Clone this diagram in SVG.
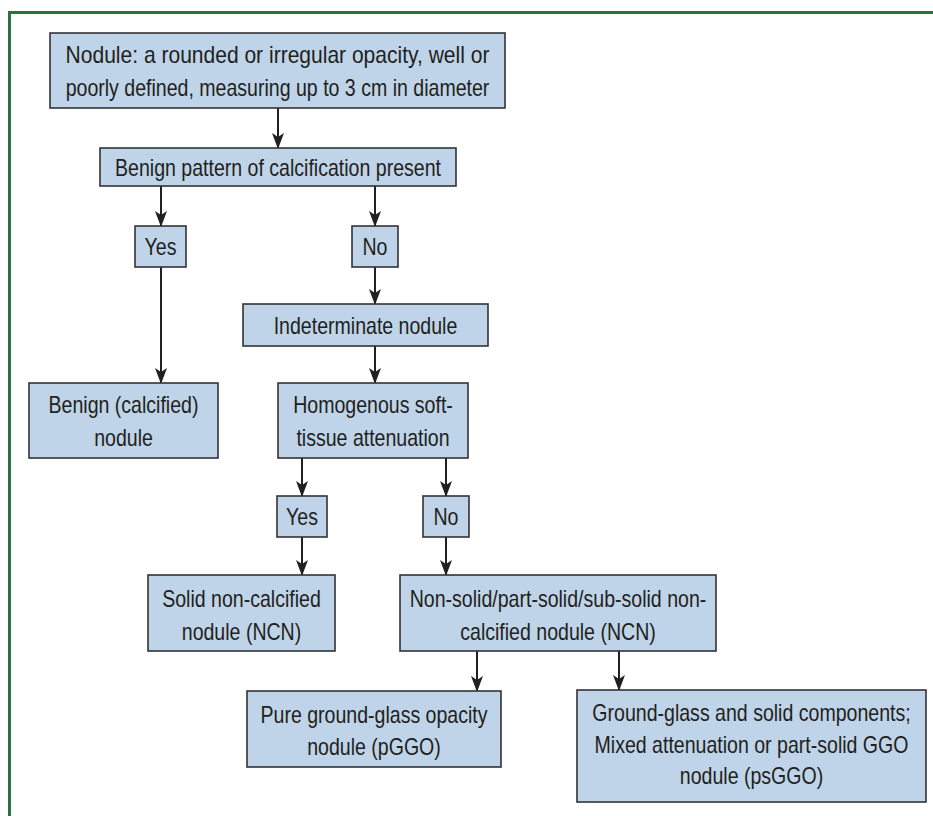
<svg xmlns="http://www.w3.org/2000/svg" width="933" height="816" viewBox="0 0 933 816">
<style>
.box{fill:#bfd4e8;stroke:#333335;stroke-width:1.6}
.t{font-family:"Liberation Sans",Arial,sans-serif;font-size:24px;fill:#231f20;text-anchor:middle}
.c{stroke:#231f20;stroke-width:2;fill:none;marker-end:url(#ah)}
</style>
<defs>
<marker id="ah" markerUnits="userSpaceOnUse" markerWidth="16" markerHeight="12" viewBox="0 0 16 12" refX="15" refY="6" orient="auto">
<path d="M0,0 L16,6 L0,12 L4,6 Z" fill="#231f20"/>
</marker>
</defs>
<rect width="933" height="816" fill="#ffffff"/>
<path d="M9.5,816 V12.5 H933" fill="none" stroke="#2e7040" stroke-width="3"/>
<g id="connectors">
<path class="c" d="M278,108 V148"/>
<path class="c" d="M161,186 V226"/>
<path class="c" d="M375,186 V226"/>
<path class="c" d="M375,267 V304"/>
<path class="c" d="M161,267 V383"/>
<path class="c" d="M375,346 V383"/>
<path class="c" d="M302,458 V496"/>
<path class="c" d="M446,458 V496"/>
<path class="c" d="M302,537 V575"/>
<path class="c" d="M446,537 V575"/>
<path class="c" d="M477,651 V691"/>
<path class="c" d="M619,651 V690"/>
</g>
<g id="n1"><rect class="box" x="50" y="33" width="455" height="75"/>
<text class="t" transform="translate(277.5,63) scale(0.815,1)" textLength="520" lengthAdjust="spacingAndGlyphs">Nodule: a rounded or irregular opacity, well or</text>
<text class="t" transform="translate(277.5,96) scale(0.815,1)">poorly defined, measuring up to 3 cm in diameter</text></g>
<g id="n2"><rect class="box" x="100" y="148" width="356" height="38"/>
<text class="t" transform="translate(278,175.5) scale(0.815,1)">Benign pattern of calcification present</text></g>
<g id="n3"><rect class="box" x="135" y="226" width="51" height="41"/>
<text class="t" transform="translate(160.5,255) scale(0.815,1)">Yes</text></g>
<g id="n4"><rect class="box" x="352" y="226" width="46" height="41"/>
<text class="t" transform="translate(375,255) scale(0.815,1)">No</text></g>
<g id="n5"><rect class="box" x="243" y="304" width="245" height="42"/>
<text class="t" transform="translate(365.5,333.5) scale(0.815,1)">Indeterminate nodule</text></g>
<g id="n6"><rect class="box" x="29" y="383" width="189" height="75"/>
<text class="t" transform="translate(123.5,413) scale(0.815,1)">Benign (calcified)</text>
<text class="t" transform="translate(123.5,446) scale(0.815,1)">nodule</text></g>
<g id="n7"><rect class="box" x="278" y="383" width="190" height="75"/>
<text class="t" transform="translate(373,413) scale(0.815,1)">Homogenous soft-</text>
<text class="t" transform="translate(373,446) scale(0.815,1)">tissue attenuation</text></g>
<g id="n8"><rect class="box" x="277" y="496" width="50" height="41"/>
<text class="t" transform="translate(302,525) scale(0.815,1)">Yes</text></g>
<g id="n9"><rect class="box" x="423" y="496" width="46" height="41"/>
<text class="t" transform="translate(446,525) scale(0.815,1)">No</text></g>
<g id="n10"><rect class="box" x="148" y="575" width="187" height="76"/>
<text class="t" transform="translate(241.5,606.5) scale(0.815,1)">Solid non-calcified</text>
<text class="t" transform="translate(241.5,639.5) scale(0.815,1)">nodule (NCN)</text></g>
<g id="n11"><rect class="box" x="400" y="575" width="316" height="76"/>
<text class="t" transform="translate(558,607) scale(0.815,1)">Non-solid/part-solid/sub-solid non-</text>
<text class="t" transform="translate(558,640) scale(0.815,1)">calcified nodule (NCN)</text></g>
<g id="n12"><rect class="box" x="247" y="691" width="254" height="76"/>
<text class="t" transform="translate(374,722.5) scale(0.815,1)">Pure ground-glass opacity</text>
<text class="t" transform="translate(374,755) scale(0.815,1)">nodule (pGGO)</text></g>
<g id="n13"><rect class="box" x="577" y="690" width="349" height="112"/>
<text class="t" transform="translate(751.5,721) scale(0.815,1)">Ground-glass and solid components;</text>
<text class="t" transform="translate(751.5,752.5) scale(0.815,1)">Mixed attenuation or part-solid GGO</text>
<text class="t" transform="translate(751.5,784) scale(0.815,1)">nodule (psGGO)</text></g>
</svg>
